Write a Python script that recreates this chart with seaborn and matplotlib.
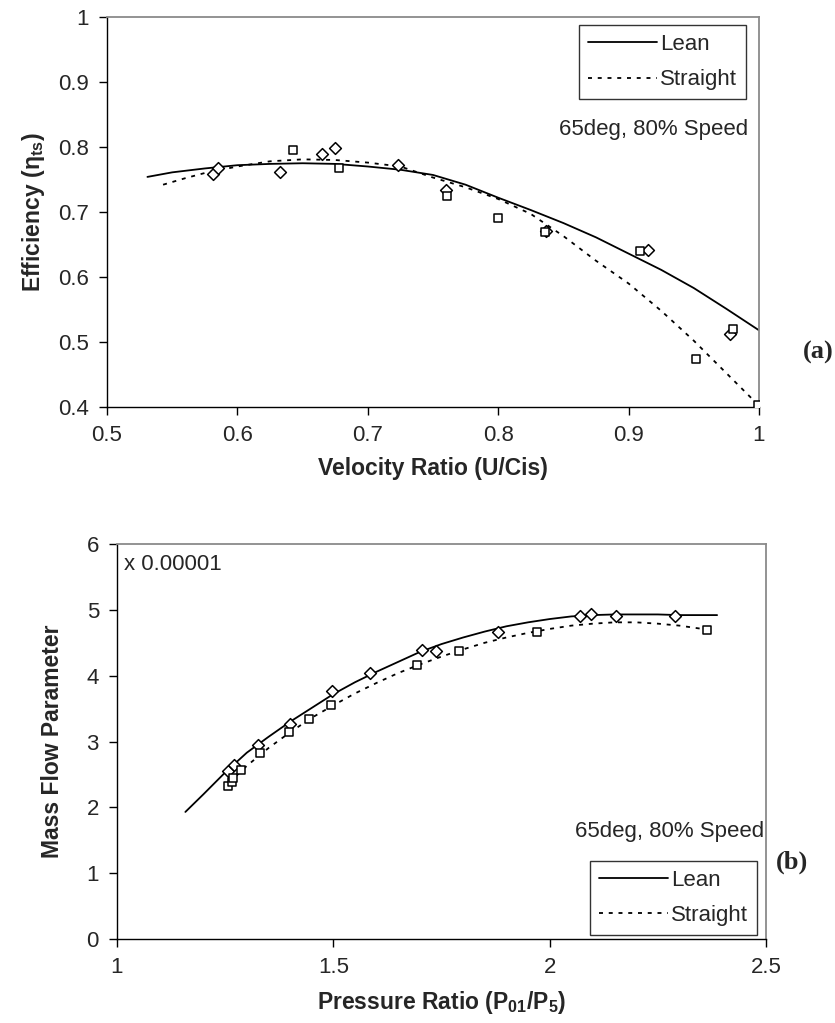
import matplotlib
matplotlib.use("Agg")
import matplotlib.pyplot as plt
import seaborn as sns
import pandas as pd
from matplotlib.ticker import FuncFormatter
from matplotlib.lines import Line2D

# ---------------- data: chart (a) ----------------
a_lean_curve_x = [0.531, 0.55, 0.575, 0.6, 0.625, 0.65, 0.675, 0.7, 0.725, 0.75,
                  0.775, 0.8, 0.825, 0.85, 0.875, 0.9, 0.925, 0.95, 0.975, 1.0]
a_lean_curve_y = [0.754, 0.761, 0.767, 0.772, 0.774, 0.775, 0.774, 0.770, 0.765, 0.757,
                  0.742, 0.722, 0.703, 0.683, 0.661, 0.636, 0.611, 0.583, 0.551, 0.518]
a_straight_curve_x = [0.543, 0.56, 0.575, 0.6, 0.625, 0.65, 0.675, 0.7, 0.725, 0.75,
                      0.775, 0.8, 0.825, 0.85, 0.875, 0.9, 0.925, 0.95, 0.975, 0.998]
a_straight_curve_y = [0.742, 0.752, 0.760, 0.770, 0.778, 0.781, 0.780, 0.776, 0.770, 0.753,
                      0.738, 0.720, 0.697, 0.663, 0.625, 0.590, 0.548, 0.502, 0.452, 0.406]
a_lean_pts_x = [0.581, 0.585, 0.633, 0.665, 0.675, 0.723, 0.760, 0.837, 0.915, 0.978]
a_lean_pts_y = [0.758, 0.767, 0.762, 0.789, 0.798, 0.773, 0.734, 0.671, 0.641, 0.512]
a_straight_pts_x = [0.643, 0.678, 0.761, 0.800, 0.836, 0.909, 0.952, 0.980, 0.999]
a_straight_pts_y = [0.796, 0.768, 0.725, 0.691, 0.669, 0.640, 0.474, 0.520, 0.403]

# ---------------- data: chart (b) ----------------
b_lean_curve_x = [1.158, 1.2, 1.25, 1.3, 1.35, 1.4, 1.45, 1.5, 1.55, 1.6, 1.65, 1.7,
                  1.75, 1.8, 1.85, 1.9, 1.95, 2.0, 2.05, 2.1, 2.15, 2.2, 2.25, 2.3, 2.387]
b_lean_curve_y = [1.93, 2.2, 2.53, 2.83, 3.07, 3.30, 3.51, 3.72, 3.90, 4.06, 4.21, 4.36,
                  4.48, 4.58, 4.67, 4.75, 4.81, 4.86, 4.90, 4.92, 4.93, 4.93, 4.93, 4.92, 4.92]
b_straight_curve_x = [1.26, 1.3, 1.35, 1.4, 1.45, 1.5, 1.55, 1.6, 1.65, 1.7, 1.75, 1.8,
                      1.85, 1.9, 1.95, 2.0, 2.05, 2.1, 2.15, 2.2, 2.25, 2.3, 2.364]
b_straight_curve_y = [2.38, 2.63, 2.90, 3.14, 3.36, 3.55, 3.73, 3.89, 4.04, 4.17, 4.29, 4.40,
                      4.50, 4.58, 4.65, 4.71, 4.76, 4.79, 4.81, 4.81, 4.79, 4.76, 4.70]
b_lean_pts_x = [1.257, 1.270, 1.325, 1.400, 1.498, 1.584, 1.706, 1.738, 1.880,
                2.069, 2.096, 2.154, 2.290]
b_lean_pts_y = [2.55, 2.64, 2.94, 3.26, 3.76, 4.04, 4.39, 4.38, 4.66,
                4.90, 4.93, 4.90, 4.90]
b_straight_pts_x = [1.256, 1.266, 1.268, 1.286, 1.331, 1.398, 1.444, 1.495, 1.694,
                    1.790, 1.970, 2.364]
b_straight_pts_y = [2.33, 2.39, 2.44, 2.57, 2.82, 3.15, 3.34, 3.55, 4.16,
                    4.37, 4.67, 4.70]

a_xticks = [0.5, 0.6, 0.7, 0.8, 0.9, 1.0]
a_yticks = [0.4, 0.5, 0.6, 0.7, 0.8, 0.9, 1.0]
b_xticks = [1, 1.5, 2, 2.5]
b_yticks = [0, 1, 2, 3, 4, 5, 6]
series_names = ["Lean", "Straight"]

# ---------------- style ----------------
sns.set_style("white")
plt.rcParams["font.family"] = ["Liberation Sans", "DejaVu Sans"]
plt.rcParams["mathtext.fontset"] = "custom"
plt.rcParams["mathtext.rm"] = "Liberation Sans"
plt.rcParams["mathtext.bf"] = "Liberation Sans:bold"
plt.rcParams["mathtext.it"] = "Liberation Sans:italic"

FS = 16
LFS = 16.5

W, H = 835, 1023
fig = plt.figure(figsize=(W / 100, H / 100), dpi=100)

def px_axes(l, t, r, b):
    return fig.add_axes([l / W, 1 - b / H, (r - l) / W, (b - t) / H])

ax1 = px_axes(107, 17, 759, 407)
ax2 = px_axes(117, 544, 766, 939)

fmt = FuncFormatter(lambda v, p: "%g" % v)
LW = 1.3
DOT = (0, (2.2, 3.2))

def style_axes(ax, xt, yt):
    ax.set_xticks(xt)
    ax.set_yticks(yt)
    ax.xaxis.set_major_formatter(fmt)
    ax.yaxis.set_major_formatter(fmt)
    ax.tick_params(axis="both", direction="out", length=6, width=1, color="black",
                   labelsize=FS, pad=7, bottom=True, left=True)
    for s in ["left", "bottom"]:
        ax.spines[s].set_color("black")
        ax.spines[s].set_linewidth(1.0)
    for s in ["top", "right"]:
        ax.spines[s].set_color("#8a8a8a")
        ax.spines[s].set_linewidth(1.3)
    ax.grid(False)

def draw(ax, lx, ly, sx, sy, lpx, lpy, spx, spy):
    sns.lineplot(x=lx, y=ly, ax=ax, color="black", lw=LW, sort=False, estimator=None)
    sns.lineplot(x=sx, y=sy, ax=ax, color="black", lw=LW, linestyle=DOT, sort=False, estimator=None)
    sns.scatterplot(x=lpx, y=lpy, ax=ax, marker="D", s=36, facecolor="white",
                    edgecolor="black", linewidth=1.1, zorder=3)
    sns.scatterplot(x=spx, y=spy, ax=ax, marker="s", s=34, facecolor="white",
                    edgecolor="black", linewidth=1.1, zorder=3)

def legend(ax, loc, anchor):
    handles = [Line2D([], [], color="black", lw=LW),
               Line2D([], [], color="black", lw=LW, linestyle=DOT)]
    lg = ax.legend(handles, series_names, loc=loc, bbox_to_anchor=anchor,
                   frameon=True, fancybox=False, fontsize=FS, handlelength=3.1,
                   handletextpad=0.15, borderpad=0.4, labelspacing=0.65,
                   borderaxespad=0)
    lg.get_frame().set_edgecolor("black")
    lg.get_frame().set_linewidth(1.0)

# ---------------- chart (a) ----------------
draw(ax1, a_lean_curve_x, a_lean_curve_y, a_straight_curve_x, a_straight_curve_y,
     a_lean_pts_x, a_lean_pts_y, a_straight_pts_x, a_straight_pts_y)
ax1.set_xlim(0.5, 1.0)
ax1.set_ylim(0.4, 1.0)
style_axes(ax1, a_xticks, a_yticks)
ax1.set_xlabel("Velocity Ratio (U/Cis)", fontsize=LFS, fontweight="bold", labelpad=8)
ax1.set_ylabel("Efficiency (η$_{\\mathbf{ts}}$)", fontsize=LFS, fontweight="bold", labelpad=8)
legend(ax1, "upper right", ((746 - 107) / 652, (407 - 25) / 390))
ax1.text((748 - 107) / 652, (407 - 130) / 390, "65deg, 80% Speed", transform=ax1.transAxes,
         ha="right", va="center", fontsize=FS)
fig.text(803 / W, 1 - 352 / H, "(a)", family="Liberation Serif", fontweight="bold",
         fontsize=19, ha="left", va="center")

# ---------------- chart (b) ----------------
draw(ax2, b_lean_curve_x, b_lean_curve_y, b_straight_curve_x, b_straight_curve_y,
     b_lean_pts_x, b_lean_pts_y, b_straight_pts_x, b_straight_pts_y)
ax2.set_xlim(1, 2.5)
ax2.set_ylim(0, 6)
style_axes(ax2, b_xticks, b_yticks)
ax2.set_xlabel("Pressure Ratio (P$_{\\mathbf{01}}$/P$_{\\mathbf{5}}$)", fontsize=LFS,
               fontweight="bold", labelpad=8)
ax2.set_ylabel("Mass Flow Parameter", fontsize=LFS, fontweight="bold", labelpad=16)
legend(ax2, "lower right", ((757 - 117) / 649, (939 - 935) / 395))
ax2.text(7 / 649, (939 - 565) / 395, "x 0.00001", transform=ax2.transAxes,
         ha="left", va="center", fontsize=FS)
ax2.text((764 - 117) / 649, (939 - 832) / 395, "65deg, 80% Speed", transform=ax2.transAxes,
         ha="right", va="center", fontsize=FS)
fig.text(776 / W, 1 - 862 / H, "(b)", family="Liberation Serif", fontweight="bold",
         fontsize=19, ha="left", va="center")

fig.savefig("out.png", dpi=100)
